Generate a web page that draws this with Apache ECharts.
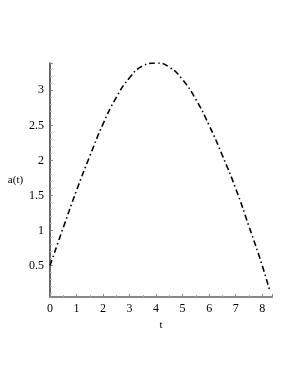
<!DOCTYPE html>
<html><head><meta charset="utf-8">
<script src="https://cdn.jsdelivr.net/npm/echarts@6/dist/echarts.min.js"></script>
<style>html,body{margin:0;padding:0;background:#fff}#c{width:295px;height:382px}</style>
</head><body><div id="c"></div>
<script>
var tValues = [0, 0.5, 1, 1.5, 2, 2.5, 3, 3.5, 4, 4.5, 5, 5.5, 6, 6.5, 7, 7.5, 8, 8.3];
var aValues = [0.5, 1.04, 1.57, 2.06, 2.52, 2.9, 3.18, 3.35, 3.39, 3.33, 3.15, 2.87, 2.5, 2.07, 1.6, 1.06, 0.5, 0.12];
var xAxisName = 't';
var yAxisName = 'a(t)';

var data = tValues.map(function (t, i) { return [t, aValues[i]]; });
var font = 'Liberation Serif';
var chart = echarts.init(document.getElementById('c'), null, {renderer: 'canvas'});
chart.setOption({
  animation: false,
  backgroundColor: '#fff',
  grid: {left: 50, right: 23, top: 63, bottom: 85, containLabel: false},
  xAxis: {
    type: 'value', min: 0, max: 8.37, interval: 1,
    name: xAxisName, nameLocation: 'middle', nameGap: 20,
    nameTextStyle: {fontFamily: font, fontSize: 11, color: '#000'},
    axisLine: {lineStyle: {color: '#888', width: 2}},
    axisTick: {inside: true, length: 3, lineStyle: {color: '#888'}},
    minorTick: {show: true, splitNumber: 2, length: 2, lineStyle: {color: '#aaa'}},
    axisLabel: {fontFamily: font, fontSize: 12, color: '#000', margin: 6, showMaxLabel: false},
    splitLine: {show: false}
  },
  yAxis: {
    type: 'value', min: 0.05, max: 3.39,
    name: yAxisName, nameLocation: 'middle', nameGap: 22, nameRotate: 0,
    nameTextStyle: {fontFamily: font, fontSize: 11, color: '#000'},
    axisLine: {show: true, lineStyle: {color: '#333', width: 1.5}},
    axisTick: {show: true, inside: true, length: 3, lineStyle: {color: '#888'}},
    minorTick: {show: true, splitNumber: 5, length: 2, lineStyle: {color: '#bbb'}},
    axisLabel: {fontFamily: font, fontSize: 12, color: '#000', margin: 6, showMinLabel: false, showMaxLabel: false},
    splitLine: {show: false}
  },
  series: [{
    type: 'line', data: data, smooth: true, showSymbol: false,
    lineStyle: {color: '#000', width: 1.6, type: [6, 3, 1.5, 3]}
  }]
});
</script></body></html>
